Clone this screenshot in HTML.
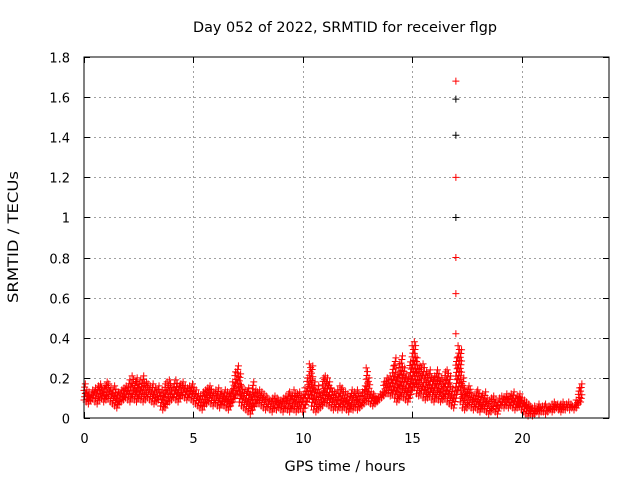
<!DOCTYPE html>
<html><head><meta charset="utf-8"><style>
body{margin:0;background:#fff}
svg{display:block;font-family:"DejaVu Sans","Liberation Sans",sans-serif;font-size:13px}
</style></head><body>
<svg id="chart" width="640" height="480" viewBox="0 0 640 480">
<rect width="640" height="480" fill="#fff"/>
<text x="345" y="32" text-anchor="middle" font-size="14" textLength="304" lengthAdjust="spacingAndGlyphs">Day 052 of 2022, SRMTID for receiver flgp</text>
<g id="grid"></g>
<g id="marks"></g>
<rect x="84" y="57" width="525" height="361" fill="none" stroke="#000" stroke-width="1"/>
<g id="ticks"></g>
<text transform="translate(18,237) rotate(-90)" text-anchor="middle" font-size="14" textLength="132" lengthAdjust="spacingAndGlyphs">SRMTID / TECUs</text>
<text x="345" y="471" text-anchor="middle" font-size="14" textLength="121" lengthAdjust="spacingAndGlyphs">GPS time / hours</text>
</svg>
<script>
const xTicks=[0,5,10,15,20];
const yTicks=[0,0.2,0.4,0.6,0.8,1,1.2,1.4,1.6,1.8];
const yTickLabels=["0","0.2","0.4","0.6","0.8","1","1.2","1.4","1.6","1.8"];
const hiVals=[.17,.14,.13,.12,.14,.15,.16,.17,.15,.16,.18,.17,.15,.14,.16,.13,.12,.14,.15,.16,.17,.19,.21,.18,.20,.17,.19,.21,.18,.17,.16,.17,.15,.14,.16,.13,.14,.17,.18,.19,.15,.17,.19,.16,.17,.18,.16,.15,.16,.17,.15,.14,.12,.11,.13,.14,.15,.16,.14,.13,.14,.15,.13,.12,.14,.13,.12,.14,.18,.23,.26,.22,.16,.14,.13,.15,.12,.18,.14,.13,.14,.13,.12,.11,.10,.09,.10,.11,.10,.09,.09,.10,.11,.12,.13,.11,.14,.12,.13,.11,.12,.15,.20,.27,.26,.18,.14,.16,.12,.20,.21,.20,.18,.15,.13,.12,.14,.16,.15,.13,.12,.11,.14,.13,.12,.14,.11,.13,.16,.25,.20,.13,.12,.11,.10,.12,.13,.18,.20,.19,.21,.26,.30,.22,.27,.31,.25,.22,.20,.28,.36,.38,.30,.26,.25,.27,.23,.22,.24,.20,.21,.24,.22,.20,.19,.23,.24,.21,.15,.13,.30,.36,.34,.20,.15,.14,.16,.12,.11,.13,.14,.11,.12,.13,.10,.09,.10,.11,.09,.08,.10,.11,.10,.12,.11,.12,.13,.10,.11,.12,.10,.09,.08,.07,.06,.05,.06,.05,.07,.06,.06,.07,.06,.05,.07,.08,.07,.06,.07,.08,.07,.08,.07,.06,.07,.09,.15,.17];
const loVals=[.09,.08,.07,.09,.10,.08,.07,.09,.10,.08,.09,.10,.08,.07,.06,.05,.07,.08,.09,.10,.09,.08,.10,.09,.08,.10,.09,.08,.09,.10,.09,.08,.07,.08,.09,.06,.04,.05,.07,.08,.09,.10,.09,.08,.10,.11,.10,.09,.10,.09,.08,.07,.06,.05,.04,.06,.07,.08,.07,.06,.07,.06,.05,.07,.06,.05,.04,.06,.08,.10,.12,.08,.06,.05,.04,.03,.02,.04,.06,.07,.07,.06,.05,.04,.05,.04,.03,.05,.04,.05,.04,.03,.05,.04,.03,.05,.04,.03,.04,.05,.03,.05,.08,.10,.06,.04,.03,.04,.05,.06,.08,.07,.06,.05,.04,.05,.04,.05,.04,.05,.04,.03,.05,.04,.05,.04,.05,.06,.07,.08,.08,.07,.06,.07,.08,.09,.10,.11,.12,.12,.11,.12,.10,.08,.09,.11,.10,.09,.08,.10,.14,.15,.12,.11,.12,.10,.09,.10,.11,.09,.08,.10,.09,.08,.09,.10,.08,.07,.06,.05,.10,.14,.08,.05,.04,.05,.06,.05,.04,.05,.04,.03,.05,.04,.03,.02,.03,.04,.03,.02,.05,.06,.05,.06,.05,.06,.05,.04,.05,.06,.04,.03,.02,.01,.02,.01,.02,.03,.02,.03,.03,.02,.03,.04,.03,.04,.05,.04,.03,.04,.04,.05,.04,.05,.04,.05,.07,.08];
const spikeTime=17.0;
const spikeRed=[0.42,0.62,0.80,1.20,1.68];
const spikeBlack=[1.0,1.41,1.59];
const NS="http://www.w3.org/2000/svg";
const X0=84,X1=609,Y0=418,Y1=57;
function xs(h){return X0+(h/24)*(X1-X0);}
function ys(v){return Y0-(v/1.8)*(Y0-Y1);}
const grid=document.getElementById('grid'),ticks=document.getElementById('ticks'),marks=document.getElementById('marks');
function line(p,x1,y1,x2,y2,st,dash){const l=document.createElementNS(NS,'line');l.setAttribute('x1',x1);l.setAttribute('y1',y1);l.setAttribute('x2',x2);l.setAttribute('y2',y2);l.setAttribute('stroke',st);if(dash)l.setAttribute('stroke-dasharray',dash);p.appendChild(l);return l;}
function txt(x,y,s,anchor){const t=document.createElementNS(NS,'text');t.setAttribute('x',x);t.setAttribute('y',y);t.setAttribute('text-anchor',anchor);t.textContent=s;ticks.appendChild(t);return t;}
xTicks.forEach(v=>{const x=Math.round(xs(v))+0.5;
 if(v>0){const g=line(grid,x,Y0,x,Y1,'#a0a0a0','2,3');}
 line(ticks,x,Y0,x,Y0-6,'#000');line(ticks,x,Y1,x,Y1+6,'#000');
 const t=txt(x,443,String(v),'middle');});
yTicks.forEach((v,i)=>{const y=Math.round(ys(v))+0.5;
 if(v>0&&v<1.8){const g=line(grid,X0,y,X1,y,'#a0a0a0','2,3');}
 line(ticks,X0,y,X0+6,y,'#000');line(ticks,X1,y,X1-6,y,'#000');
 const t=txt(70,y+5,yTickLabels[i],'end');});
function plus(h,v,col){const x=xs(h),y=ys(v);const p=document.createElementNS(NS,'path');
 p.setAttribute('d',`M${x-3.5},${y}H${x+3.5}M${x},${y-3.5}V${y+3.5}`);p.setAttribute('stroke',col);p.setAttribute('stroke-width','1');p.setAttribute('fill','none');
 
 
 marks.appendChild(p);}
hiVals.forEach((hi,i)=>{const lo=loVals[i];const h=i/10;
 const n=Math.max(1,Math.ceil((ys(lo)-ys(hi))/4));
 for(let k=0;k<=n;k++){const v=lo+(hi-lo)*k/n;plus(h+(k%3)*0.03,v,'#ff0000');}
});
spikeBlack.forEach(v=>plus(spikeTime,v,'#000'));
spikeRed.forEach(v=>plus(spikeTime,v,'#ff0000'));
</script>
</body></html>
